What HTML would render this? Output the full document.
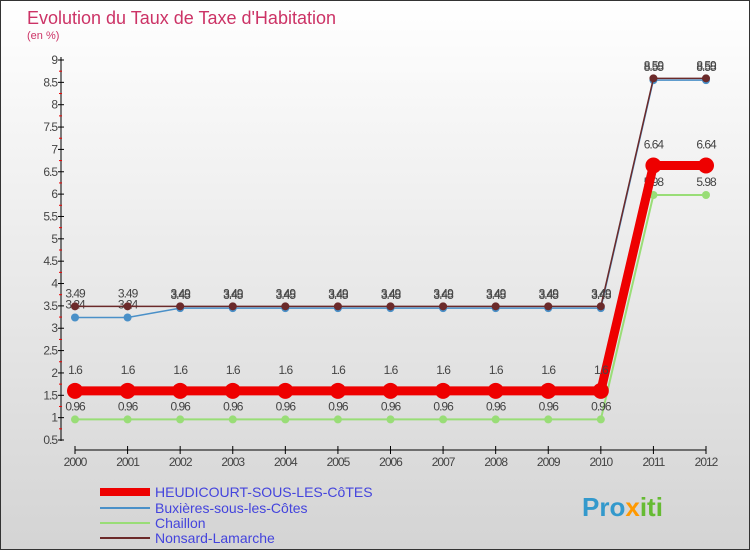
<!DOCTYPE html>
<html><head><meta charset="utf-8"><style>
body{margin:0;width:750px;height:550px;overflow:hidden;font-family:"Liberation Sans",sans-serif}
svg text{font-family:"Liberation Sans",sans-serif}
</style></head><body>
<svg id="c" width="750" height="550" xmlns="http://www.w3.org/2000/svg">
<defs><linearGradient id="bg" x1="0" y1="0" x2="0" y2="1"><stop offset="0" stop-color="#ffffff"/><stop offset="1" stop-color="#d4d4d4"/></linearGradient></defs>
<rect x="0.5" y="0.5" width="749" height="549" fill="url(#bg)" stroke="#333"/>
<text x="27" y="24" font-size="18" fill="#cc3366">Evolution du Taux de Taxe d'Habitation</text>
<text x="27" y="39" font-size="11" fill="#cc3366">(en %)</text>
<g id="axes"></g><g id="series"></g>
<rect x="100" y="488" width="50" height="8" fill="#ee0000"/>
<text x="155" y="497" font-size="14" fill="#4444dd">HEUDICOURT-SOUS-LES-CôTES</text>
<line x1="100" y1="508" x2="150" y2="508" stroke="#4a90c8" stroke-width="2"/>
<text x="155" y="513" font-size="14" fill="#4444dd">Buxières-sous-les-Côtes</text>
<line x1="100" y1="523" x2="150" y2="523" stroke="#99dd77" stroke-width="2"/>
<text x="155" y="528" font-size="14" fill="#4444dd">Chaillon</text>
<line x1="100" y1="538" x2="150" y2="538" stroke="#6b2a2a" stroke-width="2"/>
<text x="155" y="543" font-size="14" fill="#4444dd">Nonsard-Lamarche</text>
<text x="582" y="516" font-size="26" font-weight="bold" fill="#3399cc">Pro<tspan fill="#ff9900">x</tspan><tspan fill="#66bb33">iti</tspan></text>
</svg>
<script>
const years=[2000,2001,2002,2003,2004,2005,2006,2007,2008,2009,2010,2011,2012];
const heudicourt=[1.6,1.6,1.6,1.6,1.6,1.6,1.6,1.6,1.6,1.6,1.6,6.64,6.64];
const buxieres=[3.24,3.24,3.45,3.45,3.45,3.45,3.45,3.45,3.45,3.45,3.45,8.55,8.55];
const chaillon=[0.96,0.96,0.96,0.96,0.96,0.96,0.96,0.96,0.96,0.96,0.96,5.98,5.98];
const nonsard=[3.49,3.49,3.49,3.49,3.49,3.49,3.49,3.49,3.49,3.49,3.49,8.59,8.59];
const yTicks=[0.5,1,1.5,2,2.5,3,3.5,4,4.5,5,5.5,6,6.5,7,7.5,8,8.5,9];
const NS="http://www.w3.org/2000/svg";
const X=i=>75+i*(706-75)/(years.length-1);
const Y=v=>440-(v-0.5)*(380/8.5);
function mk(t,a,p){const e=document.createElementNS(NS,t);for(const k in a)e.setAttribute(k,a[k]);p.appendChild(e);return e;}
const ax=document.getElementById('axes'),sr=document.getElementById('series');
let l=mk('line',{x1:61,y1:57,x2:61,y2:441,stroke:'#000'},ax);


l=mk('line',{x1:75,y1:450,x2:706,y2:450,stroke:'#000'},ax);


yTicks.forEach(v=>{mk('line',{x1:58,y1:Y(v),x2:64,y2:Y(v),stroke:'#000'},ax);
 if(v<9)mk('line',{x1:59,y1:Y(v+0.25),x2:62,y2:Y(v+0.25),stroke:'#e00'},ax);
 const t=mk('text',{x:57,y:Y(v)+4,'font-size':12,'text-anchor':'end',fill:'#444','letter-spacing':'-1'},ax);t.textContent=String(v);
 
 });
years.forEach((y,i)=>{mk('line',{x1:X(i),y1:446,x2:X(i),y2:454,stroke:'#000'},ax);
 const t=mk('text',{x:X(i),y:466,'font-size':12,'text-anchor':'middle',fill:'#444','letter-spacing':'-1'},ax);t.textContent=y;
 
 });
function series(d,col,w,r,name,dy){
 const p=mk('polyline',{points:d.map((v,i)=>X(i)+','+Y(v)).join(' '),fill:'none',stroke:col,'stroke-width':w},sr);
 
 
 d.forEach((v,i)=>{const c=mk('circle',{cx:X(i),cy:Y(v),r:r,fill:col},sr);
  
  
  const t=mk('text',{x:X(i),y:Y(v)+dy,'font-size':12,'text-anchor':'middle',fill:'#444','letter-spacing':'-1'},sr);t.textContent=String(v);
  
  });
}
series(chaillon,'#99dd77',2,4,'chaillon',-9);
series(buxieres,'#4a90c8',1.5,4,'buxieres',-9);
series(nonsard,'#6b2a2a',1.5,4,'nonsard',-9);
series(heudicourt,'#ee0000',9,8,'heudicourt',-17);
</script>
</body></html>
